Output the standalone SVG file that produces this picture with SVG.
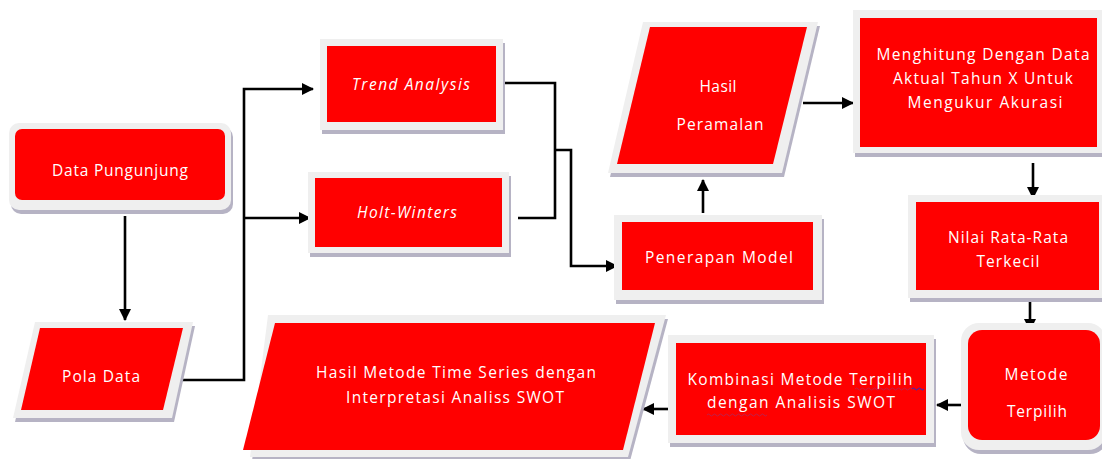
<svg xmlns="http://www.w3.org/2000/svg" width="1102" height="459" viewBox="0 0 1102 459">
  <style>
    .shadow { fill: #b6b3c4; }
    .frame { fill: #efefef; }
    .body { fill: #ff0000; }
    .label { fill: #ffffff; font-family: "Open Sans", "Liberation Sans", sans-serif; font-size: 15.5px; text-anchor: middle; }
    .it { font-style: italic; }
    .wire { fill: none; stroke: #000000; stroke-width: 2.6; }
    .arrow { marker-end: url(#head); }
    .squiggle { fill: none; stroke-width: 1; }
  </style>
  <defs>
    <marker id="head" markerUnits="userSpaceOnUse" markerWidth="12" markerHeight="12" refX="11" refY="6" orient="auto">
      <path d="M0,0 L12,6 L0,12 z" fill="#000000"/>
    </marker>
  </defs>
  <rect width="1102" height="459" fill="#ffffff"/>

  <!-- connectors -->
  <g id="connectors">
    <path class="wire arrow" d="M125,216 V320"/>
    <path class="wire arrow" d="M180,380 H244 V89 H313"/>
    <path class="wire arrow" d="M244,218 H310"/>
    <path class="wire" d="M503,83 H555 V218 H518"/>
    <path class="wire arrow" d="M555,150 H571 V266 H617"/>
    <path class="wire arrow" d="M703,213 V180"/>
    <path class="wire arrow" d="M803,103 H853"/>
    <path class="wire arrow" d="M1033,163 V198"/>
    <path class="wire arrow" d="M1030,302 V330"/>
    <path class="wire arrow" d="M962,405 H937"/>
    <path class="wire arrow" d="M672,409 H643"/>
  </g>

  <!-- Data Pungunjung -->
  <g id="data-pungunjung">
    <rect class="shadow" x="11" y="127" width="222" height="87" rx="10"/>
    <rect class="frame" x="9" y="123" width="222" height="87" rx="10"/>
    <rect class="body" x="15" y="129" width="210" height="71" rx="7"/>
    <text class="label" x="120" y="176" textLength="136">Data  Pungunjung</text>
  </g>

  <!-- Pola Data -->
  <g id="pola-data">
    <polygon class="shadow" points="37,326 195,326 174,422 15,422"/>
    <polygon class="frame" points="35,322 193,322 172,418 13,418"/>
    <polygon class="body" points="40,328 183,328 163,410 21,410"/>
    <text class="label" x="101" y="382" textLength="78">Pola  Data</text>
  </g>

  <!-- Trend Analysis -->
  <g id="trend-analysis">
    <rect class="shadow" x="322" y="43" width="183" height="91"/>
    <rect class="frame" x="320" y="39" width="183" height="91"/>
    <rect class="body" x="327" y="46" width="169" height="76"/>
    <text class="label it" x="411" y="90" textLength="118">Trend  Analysis</text>
  </g>

  <!-- Holt-Winters -->
  <g id="holt-winters">
    <rect class="shadow" x="310" y="176" width="201" height="81"/>
    <rect class="frame" x="308" y="172" width="201" height="81"/>
    <rect class="body" x="315" y="178" width="187" height="69"/>
    <text class="label it" x="407" y="218" textLength="100">Holt-Winters</text>
  </g>

  <!-- Penerapan Model -->
  <g id="penerapan-model">
    <rect class="shadow" x="616" y="219" width="208" height="85"/>
    <rect class="frame" x="614" y="215" width="208" height="85"/>
    <rect class="body" x="622" y="222" width="191" height="68"/>
    <text class="label" x="719" y="263" textLength="148">Penerapan  Model</text>
  </g>

  <!-- Hasil Peramalan -->
  <g id="hasil-peramalan">
    <polygon class="shadow" points="645,26 820,26 784,177 610,177"/>
    <polygon class="frame" points="643,22 818,22 782,173 608,173"/>
    <polygon class="body" points="650,27 807,27 773,164 617,164"/>
    <text class="label" x="718" y="92" textLength="37">Hasil</text>
    <text class="label" x="720" y="130" textLength="87">Peramalan</text>
  </g>

  <!-- Menghitung -->
  <g id="menghitung">
    <rect class="shadow" x="855" y="14" width="250" height="143"/>
    <rect class="frame" x="853" y="10" width="252" height="143"/>
    <rect class="body" x="860" y="18" width="237" height="129"/>
    <text class="label" x="983" y="60" textLength="213">Menghitung  Dengan Data</text>
    <text class="label" x="983" y="84" textLength="180">Aktual Tahun X Untuk</text>
    <text class="label" x="985" y="108" textLength="155">Mengukur Akurasi</text>
  </g>

  <!-- Nilai Rata-Rata Terkecil -->
  <g id="nilai-rata-rata">
    <rect class="shadow" x="910" y="199" width="195" height="103"/>
    <rect class="frame" x="908" y="195" width="196" height="103"/>
    <rect class="body" x="916" y="202" width="183" height="88"/>
    <text class="label" x="1008" y="243" textLength="120">Nilai  Rata-Rata</text>
    <text class="label" x="1008" y="267" textLength="63">Terkecil</text>
  </g>

  <!-- Metode Terpilih -->
  <g id="metode-terpilih">
    <rect class="shadow" x="963" y="327" width="145" height="127" rx="18"/>
    <rect class="frame" x="961" y="323" width="145" height="127" rx="18"/>
    <rect class="body" x="968" y="330" width="132" height="110" rx="14"/>
    <text class="label" x="1036" y="380" textLength="63">Metode</text>
    <text class="label" x="1037" y="417" textLength="60">Terpilih</text>
  </g>

  <!-- Kombinasi Metode Terpilih -->
  <g id="kombinasi">
    <rect class="shadow" x="670" y="339" width="266" height="108"/>
    <rect class="frame" x="668" y="335" width="266" height="108"/>
    <rect class="body" x="676" y="343" width="250" height="92"/>
    <text class="label" x="800" y="385" textLength="225">Kombinasi  Metode  Terpilih</text>
    <text class="label" x="801" y="408" textLength="188">dengan Analisis SWOT</text>
    <path class="squiggle" stroke="#c0204a" d="M855,389 q1.5,-2 3,0 t3,0 t3,0 t3,0 t3,0 t3,0 t3,0 t3,0 t3,0 t3,0 t3,0 t3,0 t3,0 t3,0 t3,0 t3,0 t3,0 t3,0 t3,0"/>
    <path class="squiggle" stroke="#2030d0" d="M912,389 q1.5,-2 3,0 t3,0 t3,0 t3,0"/>
    <path class="squiggle" stroke="#c0204a" d="M707,415 q1.5,-2 3,0 t3,0 t3,0 t3,0 t3,0 t3,0 t3,0 t3,0 t3,0 t3,0 t3,0 t3,0 t3,0 t3,0 t3,0 t3,0 t3,0 t3,0 t3,0 t3,0"/>
  </g>

  <!-- Hasil Metode Time Series -->
  <g id="hasil-metode">
    <polygon class="shadow" points="270,319 668,319 630,461 252,461"/>
    <polygon class="frame" points="268,315 666,315 628,457 250,457"/>
    <polygon class="body" points="275,323 655,323 623,450 243,450"/>
    <text class="label" x="456" y="378" textLength="280">Hasil Metode Time Series dengan</text>
    <text class="label" x="455" y="403" textLength="218">Interpretasi Analiss SWOT</text>
  </g>
</svg>
